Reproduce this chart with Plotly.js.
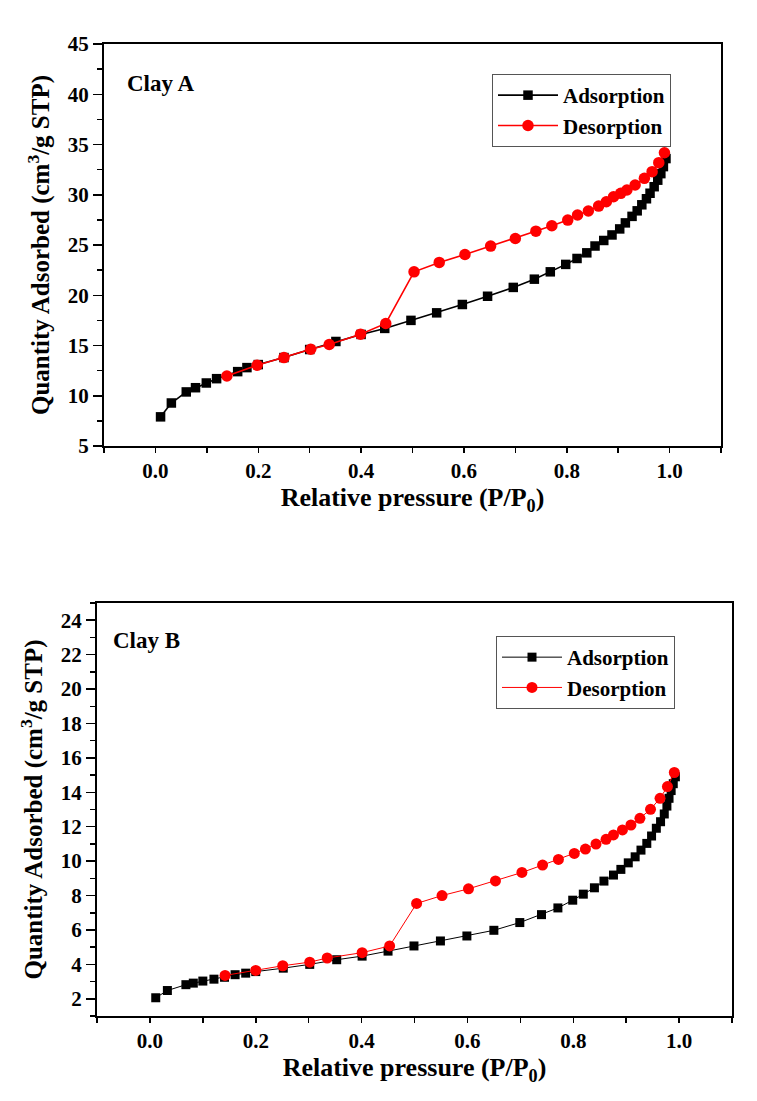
<!DOCTYPE html>
<html>
<head>
<meta charset="utf-8">
<script src="https://cdn.plot.ly/plotly-3.0.1.min.js"></script>
<style>html,body{margin:0;padding:0;background:#fff;}#chart{width:757px;height:1101px;}</style>
</head>
<body>
<div id="chart"></div>
<script>
// Clay A
const clayA_ads_x = [0.01,0.031,0.06,0.078,0.099,0.119,0.16,0.178,0.2,0.25,0.3,0.351,0.4,0.446,0.497,0.547,0.597,0.646,0.696,0.737,0.768,0.798,0.82,0.839,0.855,0.872,0.888,0.903,0.914,0.927,0.937,0.946,0.955,0.962,0.970,0.977,0.983,0.988,0.993];
const clayA_ads_y = [7.9,9.28,10.38,10.8,11.27,11.7,12.4,12.8,13.1,13.8,14.6,15.4,16.1,16.7,17.5,18.25,19.08,19.9,20.78,21.6,22.33,23.07,23.66,24.22,24.9,25.45,26.0,26.6,27.2,27.85,28.4,29.0,29.6,30.15,30.8,31.45,32.1,32.8,33.6];
const clayA_des_x = [0.99,0.979,0.966,0.951,0.933,0.917,0.905,0.891,0.877,0.862,0.842,0.821,0.802,0.771,0.74,0.70,0.652,0.602,0.552,0.503,0.448,0.399,0.338,0.302,0.25,0.198,0.139];
const clayA_des_y = [34.18,33.19,32.3,31.63,30.97,30.47,30.14,29.8,29.3,28.87,28.38,27.98,27.48,26.91,26.38,25.65,24.89,24.06,23.27,22.33,17.19,16.13,15.1,14.63,13.8,13.04,11.97];
// Clay B
const clayB_ads_x = [0.011,0.033,0.068,0.082,0.1,0.121,0.141,0.161,0.181,0.2,0.252,0.302,0.353,0.401,0.45,0.499,0.549,0.599,0.65,0.699,0.74,0.771,0.799,0.819,0.84,0.858,0.876,0.89,0.904,0.917,0.928,0.939,0.948,0.957,0.965,0.972,0.977,0.981,0.985,0.989,0.993];
const clayB_ads_y = [2.06,2.48,2.82,2.91,3.03,3.14,3.25,3.4,3.49,3.58,3.78,4.0,4.27,4.48,4.77,5.07,5.36,5.65,5.98,6.43,6.89,7.28,7.73,8.08,8.45,8.84,9.19,9.52,9.9,10.25,10.64,11.03,11.46,11.91,12.29,12.74,13.2,13.65,14.1,14.5,14.9];
const clayB_des_x = [0.991,0.978,0.964,0.946,0.926,0.909,0.893,0.876,0.862,0.843,0.823,0.802,0.772,0.742,0.703,0.653,0.602,0.552,0.504,0.453,0.401,0.335,0.302,0.251,0.2,0.142];
const clayB_des_y = [15.15,14.33,13.65,13.01,12.49,12.1,11.81,11.52,11.27,10.99,10.7,10.45,10.1,9.77,9.34,8.85,8.39,8.0,7.54,5.07,4.68,4.37,4.13,3.92,3.65,3.36];

const seriesNames = ['Adsorption','Desorption'];
const panelLabels = ['Clay A','Clay B'];
const xTitle = 'Relative pressure (P/P<sub>0</sub>)';
const yTitle = 'Quantity Adsorbed (cm<sup>3</sup>/g STP)';

const FONT = 'Liberation Serif';
const W = 757, H = 1101;

const traces = [
  {x: clayA_ads_x, y: clayA_ads_y, name: seriesNames[0], xaxis:'x', yaxis:'y', mode:'lines+markers', legend:'legend',
   line:{color:'#000', width:1.6}, marker:{symbol:'square', size:9.5, color:'#000'}},
  {x: clayA_des_x, y: clayA_des_y, name: seriesNames[1], xaxis:'x', yaxis:'y', mode:'lines+markers', legend:'legend',
   line:{color:'#ff0000', width:1.6}, marker:{symbol:'circle', size:11.5, color:'#ff0000'}},
  {x: clayB_ads_x, y: clayB_ads_y, name: seriesNames[0], xaxis:'x2', yaxis:'y2', mode:'lines+markers', legend:'legend2',
   line:{color:'#000', width:1}, marker:{symbol:'square', size:9, color:'#000'}},
  {x: clayB_des_x, y: clayB_des_y, name: seriesNames[1], xaxis:'x2', yaxis:'y2', mode:'lines+markers', legend:'legend2',
   line:{color:'#ff0000', width:1}, marker:{symbol:'circle', size:11, color:'#ff0000'}}
];

function xax(dom, anchor){
  return {domain: dom, anchor: anchor, range:[-0.1,1.1], dtick:0.2, tick0:0, tickformat:'.1f',
    showline:true, linecolor:'#000', linewidth:2, mirror:true, ticks:'outside', ticklen:5, tickwidth:1.5, tickcolor:'#000',
    minor:{dtick:0.1, ticks:'outside', ticklen:5, tickwidth:1.5, tickcolor:'#000'},
    showgrid:false, zeroline:false,
    tickfont:{family:FONT, size:21, color:'#000', weight:'bold'},
    title:{text:xTitle, font:{family:FONT, size:26, color:'#000', weight:'bold'}, standoff:5}};
}
function yax(dom, anchor, range, dtick, mdt){
  return {domain: dom, anchor: anchor, range: range, dtick: dtick, tick0:0,
    showline:true, linecolor:'#000', linewidth:2, mirror:true, ticks:'outside', ticklen:9, tickwidth:1.5, tickcolor:'#000',
    minor:{dtick:mdt, ticks:'outside', ticklen:5, tickwidth:1.5, tickcolor:'#000'},
    showgrid:false, zeroline:false,
    tickfont:{family:FONT, size:21, color:'#000', weight:'bold'},
    title:{text:yTitle, font:{family:FONT, size:25, color:'#000', weight:'bold'}, standoff:11}};
}

const LFONT = {family:FONT, size:21, color:'#000', weight:'bold'};
const layout = {
  width:W, height:H, margin:{l:0,r:0,t:0,b:0}, paper_bgcolor:'#fff', plot_bgcolor:'#fff',
  font:{family:FONT, color:'#000'},
  showlegend:true,
  xaxis: xax([104/W, 721/W], 'y'),
  yaxis: yax([(H-446)/H, (H-44)/H], 'x', [5,45], 5, 2.5),
  xaxis2: xax([97/W, 732/W], 'y2'),
  yaxis2: yax([(H-1016)/H, (H-603)/H], 'x2', [1,25], 2, 1),
  legend:{x:492/W, y:1-74/H, xanchor:'left', yanchor:'top', bordercolor:'#555', borderwidth:1, bgcolor:'#fff',
    font:LFONT, tracegroupgap:0, itemwidth:60},
  legend2:{x:496/W, y:1-636/H, xanchor:'left', yanchor:'top', bordercolor:'#555', borderwidth:1, bgcolor:'#fff',
    font:LFONT, tracegroupgap:0, itemwidth:60},
  annotations:[
    {text:panelLabels[0], xref:'paper', yref:'paper', x:125/W, y:1-83/H, xanchor:'left', yanchor:'middle', showarrow:false,
     font:{family:FONT, size:23, color:'#000', weight:'bold'}},
    {text:panelLabels[1], xref:'paper', yref:'paper', x:111/W, y:1-640/H, xanchor:'left', yanchor:'middle', showarrow:false,
     font:{family:FONT, size:23, color:'#000', weight:'bold'}}
  ]
};

Plotly.newPlot('chart', traces, layout, {staticPlot:true, displayModeBar:false});
</script>
</body>
</html>
